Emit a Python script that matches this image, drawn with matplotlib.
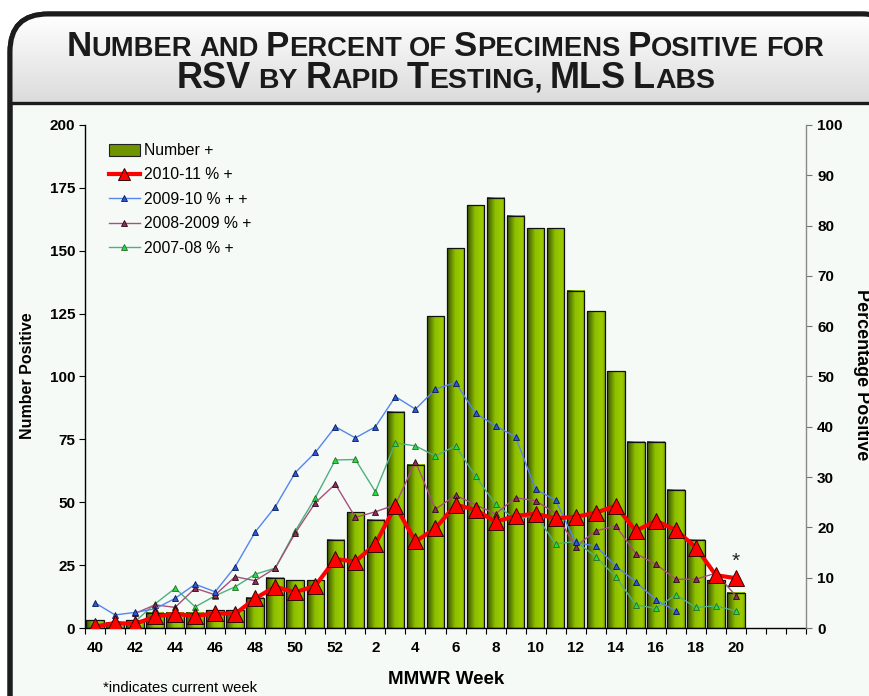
import numpy as np
import matplotlib
matplotlib.use("Agg")
import matplotlib.pyplot as plt
from matplotlib import font_manager
from matplotlib.patches import FancyBboxPatch, Patch
from matplotlib.lines import Line2D
from matplotlib.colors import LinearSegmentedColormap

plt.rcParams['font.family'] = ['Liberation Sans', 'DejaVu Sans']

# MMWR weeks 40-52, then 1-23 (weeks after 20 have no data yet)
weeks = list(range(40, 53)) + list(range(1, 24))
tick_weeks = [40, 42, 44, 46, 48, 50, 52, 2, 4, 6, 8, 10, 12, 14, 16, 18, 20]

number_pos = [3, 2, 3, 6, 6, 6, 7, 7, 12, 20, 19, 19, 35,
              46, 43, 86, 65, 124, 151, 168, 171, 164, 159, 159, 134, 126,
              102, 74, 74, 55, 35, 19, 14]

pct_2010 = [0.3, 1.0, 0.8, 2.3, 2.8, 2.4, 2.9, 2.8, 5.9, 8.2, 7.1, 8.4, 13.7,
            13.2, 16.7, 24.3, 17.2, 19.8, 24.5, 23.5, 21.1, 22.3, 22.7, 21.8,
            22.1, 22.9, 24.3, 19.3, 21.3, 19.5, 16.0, 10.5, 9.9]

pct_2009 = [5.0, 2.6, 3.1, 3.8, 5.9, 8.7, 7.2, 12.2, 19.1, 24.1, 30.9, 34.9, 40.0,
            37.8, 40.0, 46.0, 43.5, 47.5, 48.8, 42.7, 40.2, 38.0, 27.6, 25.4,
            17.0, 16.3, 12.3, 9.2, 5.6, 3.4]

pct_2008 = [None, None, 2.9, 4.6, 4.1, 7.9, 6.6, 10.2, 9.4, 11.9, 18.9, 24.9, 28.6,
            22.0, 23.1, 24.5, 33.1, 23.6, 26.4, 24.5, 22.7, 25.9, 25.3, 22.8,
            16.2, 19.3, 20.3, 14.8, 12.7, 9.7, 9.7, 10.9, 6.4]

pct_2007 = [None, None, 1.3, 4.8, 7.9, 4.2, 6.4, 8.2, 10.7, 11.9, 19.3, 25.9, 33.4,
            33.5, 27.1, 36.8, 36.2, 34.2, 36.2, 30.2, 24.6, 21.5, 22.5, 16.7,
            17.2, 14.2, 10.2, 4.6, 3.9, 6.6, 4.1, 4.4, 3.4]


def as_array(vals):
    return np.array([np.nan if v is None else v for v in vals], dtype=float)


W, H = 870, 696
fig = plt.figure(figsize=(W / 100, H / 100), dpi=100)
fig.patch.set_facecolor('white')

# ---- background frame (pixel coordinates) ----
bg = fig.add_axes([0, 0, 1, 1], zorder=0)
bg.set_xlim(0, W)
bg.set_ylim(H, 0)
bg.axis('off')

frame = FancyBboxPatch((10, 14), W + 20, H + 40,
                       boxstyle="round,pad=0,rounding_size=38",
                       facecolor='#f5faf7', edgecolor='#1c1c1c', linewidth=3.6,
                       zorder=1)
bg.add_patch(frame)
grad = np.linspace(1.0, 0.86, 64).reshape(-1, 1)
title_bg = bg.imshow(np.dstack([grad, grad, grad]), extent=(10, W + 30, 103, 14),
                     origin='upper', aspect='auto', zorder=1.5, interpolation='bilinear')
title_bg.set_clip_path(frame)
bg.plot([10, W], [103, 103], color='#1c1c1c', lw=2.4, zorder=2)
# redraw frame edge on top of the gradient
edge = FancyBboxPatch((10, 14), W + 20, H + 40,
                      boxstyle="round,pad=0,rounding_size=38",
                      facecolor='none', edgecolor='#1c1c1c', linewidth=3.6, zorder=3)
bg.add_patch(edge)

# ---- small caps title ----
names = {f.name for f in font_manager.fontManager.ttflist}
title_font = 'Liberation Sans Narrow' if 'Liberation Sans Narrow' in names else 'Liberation Sans'
renderer = fig.canvas.get_renderer()


def smallcaps_segments(line):
    segs = []
    for word in line.split(' '):
        if word.isupper() or word.rstrip(',').isupper():
            segs.append((word, 'big'))
        elif word[0].isupper():
            segs.append((word[0], 'big'))
            segs.append((word[1:].upper(), 'small'))
        else:
            segs.append((word.upper(), 'small'))
        segs.append((' ', 'space'))
    return segs[:-1]


def draw_smallcaps(line, baseline_px, target_w, center_x, big=28, small=22):
    segs = smallcaps_segments(line)
    scale = 1.0
    for _ in range(2):
        texts, widths = [], []
        for s, kind in segs:
            if kind == 'space':
                texts.append(None)
                widths.append(0.26 * small * scale * 100 / 72)
                continue
            size = (big if kind == 'big' else small) * scale
            t = bg.text(0, baseline_px, s, fontsize=size, fontweight='bold',
                        family=title_font, color='#1a1a1a', ha='left', va='baseline', zorder=4)
            texts.append(t)
            widths.append(t.get_window_extent(renderer).width)
        total = sum(widths)
        if total <= target_w * 1.01 or _ == 1:
            break
        for t in texts:
            if t is not None:
                t.remove()
        scale *= target_w / total
    x = center_x - total / 2
    for t, w in zip(texts, widths):
        if t is not None:
            t.set_x(x)
        x += w


draw_smallcaps('Number and Percent of Specimens Positive for', 56, 755, 445)
draw_smallcaps('RSV by Rapid Testing, MLS Labs', 88, 537, 446)

# ---- main chart ----
x0, x1, y_top, y_bot = 85, 806, 125, 628
ax = fig.add_axes([x0 / W, (H - y_bot) / H, (x1 - x0) / W, (y_bot - y_top) / H], zorder=2)
ax.set_facecolor('none')

xs = np.arange(len(weeks))
bar_w = 0.88
bar_cmap = LinearSegmentedColormap.from_list(
    'olive', [(0, '#3a5000'), (0.45, '#8cbf00'), (0.85, '#9dcc00'), (1, '#7fa800')])
gimg = np.linspace(0, 1, 64).reshape(1, -1)
for i, v in enumerate(number_pos):
    ax.imshow(gimg, cmap=bar_cmap, extent=(i - bar_w / 2, i + bar_w / 2, 0, v),
              aspect='auto', zorder=2, interpolation='bilinear')
ax.bar(xs[:len(number_pos)], number_pos, width=bar_w, facecolor='none',
       edgecolor='#111111', linewidth=0.9, zorder=3)

ax.set_xlim(-0.5, len(weeks) - 0.5)
ax.set_ylim(0, 200)
ax.set_yticks(range(0, 201, 25))
ax.set_xticks([weeks.index(w) for w in tick_weeks])
ax.set_xticklabels([str(w) for w in tick_weeks])
ax.set_xticks(np.arange(-0.5, len(weeks), 1), minor=True)
ax.tick_params(axis='x', which='major', length=0, pad=9.5, labelsize=11)
ax.tick_params(axis='x', which='minor', length=4, width=0.8, direction='out')
ax.tick_params(axis='y', length=4, width=0.8, direction='out', pad=3, labelsize=11)
for lab in ax.get_xticklabels() + ax.get_yticklabels():
    lab.set_fontweight('bold')
for s in ['top', 'right']:
    ax.spines[s].set_visible(False)
ax.spines['left'].set_linewidth(1.0)
ax.spines['bottom'].set_linewidth(1.0)

ax2 = ax.twinx()
ax2.set_ylim(0, 100)
ax2.set_yticks(range(0, 101, 10))
ax2.tick_params(axis='y', length=4, width=0.8, direction='out', pad=4, labelsize=11,
                color='#777777')
for lab in ax2.get_yticklabels():
    lab.set_fontweight('bold')
for s in ['top', 'left', 'bottom']:
    ax2.spines[s].set_visible(False)
ax2.spines['right'].set_color('#888888')
ax2.spines['right'].set_linewidth(1.0)

series = [
    (pct_2007, '#4fb07e', '#1fe040', '#2a6a2a'),
    (pct_2008, '#a6507a', '#8e2d5c', '#2a0a18'),
    (pct_2009, '#5585ee', '#2a5ad8', '#0a1850'),
]
for vals, lc, fc, ec in series:
    arr = as_array(vals)
    ax2.plot(xs[:len(arr)], arr, color=lc, lw=1.0, marker='^', ms=5,
             mfc=fc, mec=ec, mew=0.6, zorder=3)
red = as_array(pct_2010)
ax2.plot(xs[:len(red)], red, color='#ff0000', lw=3.0, marker='^', ms=11.5,
         mfc='#ff0000', mec='#300000', mew=0.7, zorder=5, solid_joinstyle='round')
ax2.text(len(red) - 1, 13.3, '*', ha='center', va='center', fontsize=15, color='#222222')

# axis titles
fig.text(28 / W, 1 - 376 / H, 'Number Positive', rotation=90, ha='center', va='center',
         fontsize=11.5, fontweight='bold')
fig.text(862 / W, 1 - 375 / H, 'Percentage Positive', rotation=-90, ha='center', va='center',
         fontsize=13, fontweight='bold')
fig.text(446 / W, 1 - 680 / H, 'MMWR Week', ha='center', va='center',
         fontsize=13.5, fontweight='bold')
fig.text(103 / W, 1 - 688 / H, '*indicates current week', ha='left', va='center',
         fontsize=10.7)

# legend
handles = [
    Patch(facecolor='#6e9400', edgecolor='#222222', linewidth=0.8),
    Line2D([], [], color='#ff0000', lw=3.0, marker='^', ms=9, mfc='#ff0000', mec='#300000', mew=0.7),
    Line2D([], [], color='#5585ee', lw=1.0, marker='^', ms=5, mfc='#2a5ad8', mec='#0a1850', mew=0.6),
    Line2D([], [], color='#a6507a', lw=1.0, marker='^', ms=5, mfc='#8e2d5c', mec='#2a0a18', mew=0.6),
    Line2D([], [], color='#4fb07e', lw=1.0, marker='^', ms=5, mfc='#1fe040', mec='#2a6a2a', mew=0.6),
]
labels = ['Number +', '2010-11 % +', '2009-10 % + +', '2008-2009 % +', '2007-08 % +']
ax2.legend(handles, labels, loc='upper left', bbox_to_anchor=(109 / W, 1 - 143 / H),
           bbox_transform=fig.transFigure, frameon=False, fontsize=11.3,
           handlelength=1.95, handleheight=0.8, handletextpad=0.3, labelspacing=0.6,
           borderpad=0, borderaxespad=0)

fig.savefig('out.png', dpi=100)
